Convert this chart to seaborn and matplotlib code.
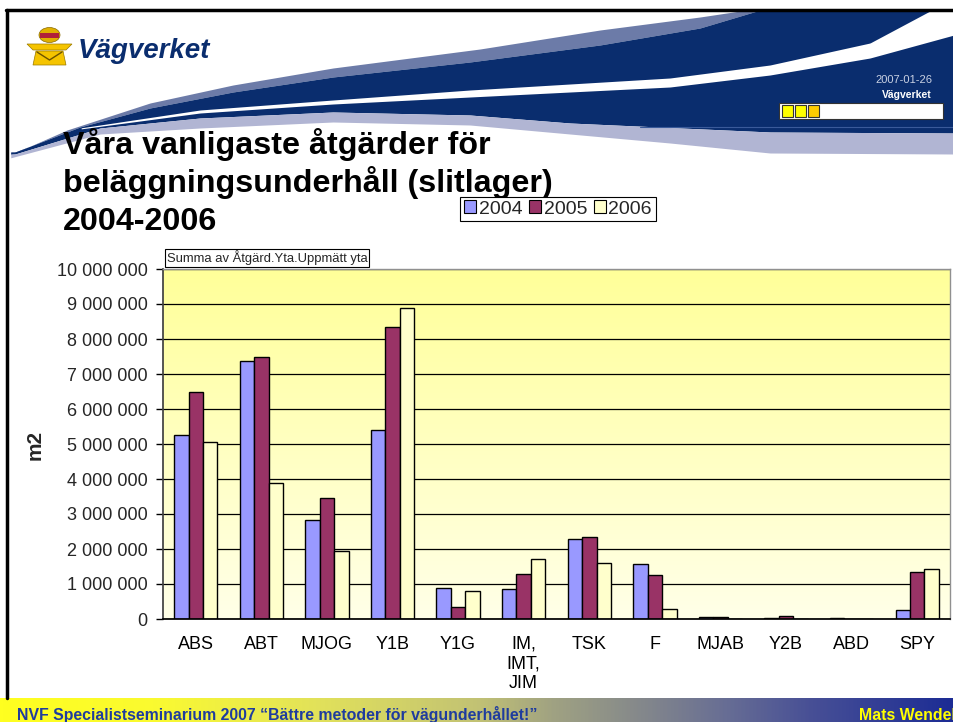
import matplotlib
matplotlib.use("Agg")
import matplotlib.pyplot as plt
from matplotlib.patches import Patch, Rectangle, Polygon, Ellipse
from matplotlib.colors import LinearSegmentedColormap
import seaborn as sns
import pandas as pd
import numpy as np

# ---------------------------------------------------------------------------
# data
# ---------------------------------------------------------------------------
categories = ["ABS", "ABT", "MJOG", "Y1B", "Y1G", "IM,\nIMT,\nJIM",
              "TSK", "F", "MJAB", "Y2B", "ABD", "SPY"]
years = ["2004", "2005", "2006"]
area_2004 = [5270000, 7370000, 2840000, 5390000, 880000, 860000,
             2300000, 1580000, 57000, 25000, 25000, 250000]
area_2005 = [6500000, 7490000, 3450000, 8340000, 350000, 1290000,
             2350000, 1260000, 48000, 85000, 10000, 1340000]
area_2006 = [5050000, 3890000, 1930000, 8900000, 790000, 1720000,
             1590000, 300000, 0, 0, 0, 1420000]
y_ticks = [0, 1000000, 2000000, 3000000, 4000000, 5000000,
           6000000, 7000000, 8000000, 9000000, 10000000]
bar_colors = ["#9999FF", "#993366", "#FFFFCC"]

df = pd.DataFrame({
    "category": categories * 3,
    "year": [y for y in years for _ in categories],
    "area": area_2004 + area_2005 + area_2006,
})

sns.set_theme(style="white")
plt.rcParams["font.family"] = ["Liberation Sans", "DejaVu Sans"]

W, H = 954, 722
fig = plt.figure(figsize=(W / 100, H / 100), dpi=100)

# slide decoration axes in pixel coordinates
deco = fig.add_axes([0, 0, 1, 1], zorder=0)
deco.set_xlim(0, W)
deco.set_ylim(H, 0)
deco.axis("off")

xs = np.linspace(0, W, 800)


def curve(pts):
    px, py = zip(*pts)
    return np.interp(xs, px, py)


slate_top = curve([(10, 155), (67, 130), (150, 103), (233, 85), (333, 68), (480, 49),
                   (600, 30), (700, 17), (740, 11), (954, 11)])
navy_top = curve([(15, 152), (80, 127), (150, 108), (233, 92), (333, 77), (470, 62),
                  (600, 45), (700, 28), (757, 11), (954, 11)])
navy_bot = curve([(15, 154), (100, 128), (200, 118), (333, 112), (470, 115),
                  (570, 123), (770, 132), (954, 133)])
white_up = curve([(80, 128), (200, 110), (333, 100), (470, 90), (670, 78), (770, 65),
                  (870, 43), (930, 11), (954, 11)])
white_lo = curve([(80, 129), (200, 113), (333, 104), (470, 97), (670, 87), (770, 75),
                  (870, 58), (954, 35)])
lav_bot = curve([(10, 158), (100, 134), (200, 128), (333, 122), (470, 125),
                 (670, 143), (770, 153), (954, 154)])

m = xs >= 10
deco.fill_between(xs[m], slate_top[m], navy_top[m], color="#6C7BA8", lw=0)
deco.fill_between(xs[m], navy_top[m], navy_bot[m], color="#0A2D6E", lw=0)
mw = xs >= 80
deco.fill_between(xs[mw], white_up[mw], white_lo[mw], color="white", lw=0)
deco.fill_between(xs[m], navy_bot[m], lav_bot[m], color="#B1B5D3", lw=0)
deco.plot([640, 954], [127, 127], color="#3A5A9A", lw=0.8)

# slide border
deco.plot([6, W], [10, 10], color="black", lw=2.5)
deco.plot([7, 7], [10, 698], color="black", lw=2.5)

# logo
deco.add_patch(Polygon([(27, 44), (72, 44), (66, 50), (33, 50)], fc="#F5C400", ec="#9A7A00", lw=0.5))
deco.add_patch(Polygon([(36, 51), (63, 51), (66, 65), (33, 65)], fc="#F5C400", ec="#9A7A00", lw=0.5))
deco.plot([37, 49.5, 62], [52, 60, 52], color="#6B5200", lw=1)
deco.add_patch(Ellipse((49.5, 35), 21, 15, fc="#E0B000", ec="#8A6A00", lw=0.5))
deco.add_patch(Rectangle((40, 33), 19, 5, fc="#B0203A", lw=0))
deco.text(78, 58, "Vägverket", fontsize=20, weight="bold", style="italic",
          color="#0A2D6E", va="baseline")

# right header
deco.text(932, 80, "2007-01-26", ha="right", va="center", fontsize=8, color="#C9D1E3")
deco.text(932, 95, "Vägverket", ha="right", va="center", fontsize=7.5,
          weight="bold", color="white")
deco.add_patch(Rectangle((779, 103), 164, 16, fc="white", ec="#333333", lw=0.8))
for x0, c in zip([782, 795, 808], ["#FFFF00", "#FFFF00", "#FFCC00"]):
    deco.add_patch(Rectangle((x0, 105), 11.5, 12, fc=c, ec="#333333", lw=0.8))

# title
title_lines = ["Våra vanligaste åtgärder för",
               "beläggningsunderhåll (slitlager)",
               "2004-2006"]
for line, yb in zip(title_lines, [154, 192, 230]):
    deco.text(63, yb, line, fontsize=23.2, weight="bold", color="black", va="baseline")

# plot area gradient background
grad = np.linspace(0, 1, 256).reshape(-1, 1)
bg_cmap = LinearSegmentedColormap.from_list("bg", ["#FFFF99", "#FFFFE8"])
deco.imshow(grad, extent=(163, 950, 619, 269), cmap=bg_cmap, aspect="auto", zorder=0)

# bottom banner
band = np.linspace(0, 1, 512).reshape(1, -1)
band_cmap = LinearSegmentedColormap.from_list("band", [
    (0.0, "#FFFF20"), (0.16, "#FAFA30"), (0.33, "#E2E25A"), (0.5, "#C2C274"),
    (0.58, "#A0A282"), (0.68, "#82868C"), (0.76, "#686E94"), (0.85, "#485096"),
    (1.0, "#1C2C94")])
deco.imshow(band, extent=(0, W, 722, 698), cmap=band_cmap, aspect="auto", zorder=0)
deco.text(17, 720, "NVF Specialistseminarium 2007 \u201cBättre metoder för vägunderhållet!\u201d",
          fontsize=11.4, weight="bold", color="#1F3C9E", va="baseline")
deco.text(859, 720, "Mats Wendel", fontsize=11.4, weight="bold", color="#FFFF00", va="baseline")
deco.set_xlim(0, W)
deco.set_ylim(H, 0)

# ---------------------------------------------------------------------------
# chart
# ---------------------------------------------------------------------------
ax = fig.add_axes([163 / W, 1 - 619 / H, (950 - 163) / W, (619 - 269) / H], zorder=2)
ax.patch.set_alpha(0)

sns.barplot(data=df, x="category", y="area", hue="year", order=categories,
            hue_order=years, palette=bar_colors, width=0.66, edgecolor="black",
            linewidth=1, saturation=1, legend=False, ax=ax)

ax.set_xlim(-0.5, len(categories) - 0.5)
ax.set_ylim(0, 10000000)
ax.set_yticks(y_ticks)
ax.set_yticklabels([f"{v:,}".replace(",", " ") for v in y_ticks])
ax.set_xlabel("")
ax.set_ylabel("")
ax.yaxis.grid(True, color="black", lw=0.9)
ax.xaxis.grid(False)
ax.set_axisbelow(True)

ax.set_xticks(np.arange(-0.5, len(categories), 1), minor=True)
ax.tick_params(axis="x", which="major", length=0, pad=12, labelsize=13, colors="black")
ax.tick_params(axis="x", which="minor", length=6, width=1, direction="out", color="black")
ax.tick_params(axis="y", which="major", length=5, width=1, direction="out", pad=6,
               labelsize=13, color="black", left=True)

for side in ["top", "right"]:
    ax.spines[side].set_color("#909090")
    ax.spines[side].set_linewidth(1)
ax.spines["left"].set_color("#404040")
ax.spines["bottom"].set_color("black")

deco.text(35, 445, "m2", rotation=90, fontsize=15, weight="bold", ha="center", va="center")
deco.text(167, 258, "Summa av Åtgärd.Yta.Uppmätt yta", fontsize=9.4, va="center",
          bbox=dict(boxstyle="square,pad=0.12", fc="white", ec="black", lw=0.8))

handles = [Patch(fc=c, ec="black", lw=0.8) for c in bar_colors]
leg = fig.legend(handles, years, loc="center", bbox_to_anchor=(558 / W, 1 - 209 / H),
                 ncol=3, fontsize=14, frameon=True, fancybox=False, edgecolor="black",
                 framealpha=1, handlelength=0.6, handleheight=0.6, handletextpad=0.15,
                 columnspacing=0.35, borderpad=0.2, borderaxespad=0)
leg.get_frame().set_linewidth(0.8)

fig.savefig("out.png", dpi=100)
